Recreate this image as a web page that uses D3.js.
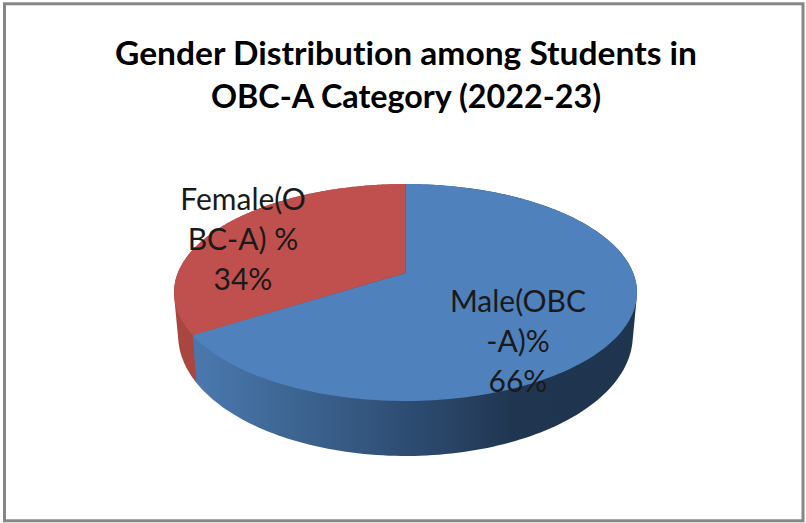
<!DOCTYPE html>
<html><head><meta charset="utf-8">
<script src="https://cdn.jsdelivr.net/npm/d3@7/dist/d3.min.js"></script>
<style>html,body{margin:0;padding:0;background:#fff;overflow:hidden}svg{display:block}text{font-variant-ligatures:none}</style>
</head><body><svg id="c" width="806" height="523"></svg>
<script>
const categories = ["Male(OBC-A)%", "Female(OBC-A) %"];
const values = [66, 34];
const labelLines = [["Male(OBC", "-A)%", "66%"], ["Female(O", "BC-A) %", "34%"]];
const titleLines = ["Gender Distribution among Students in", "OBC-A Category (2022-23)"];
const faceColors = ["#4f81bd", "#c0504d"];

const W = 806, H = 523;
const svg = d3.select("#c");
const defs = svg.append("defs");

svg.append("rect").attr("x", 4.5).attr("y", 3.8).attr("width", W - 7.5).attr("height", H - 6)
  .attr("fill", "#fff").attr("stroke", "#868686").attr("stroke-width", 3);

// Perspective mapping of the unit disc
const cx = 405.5, persp = 0.18, R = 227.7;
const project = (a, top) => {
  const u = Math.sin(a), v = -Math.cos(a), d = 1 - persp * v;
  return top
    ? [cx + R * u / d, (55.8 * v + 273) / d]
    : [cx + 0.982 * R * u / d, (60.1 * v + 313.8) / d];
};

const pie = d3.pie().sort(null).value(d => d);
const arcs = pie(values);
const line = d3.line();

const grad = defs.append("linearGradient").attr("id", "sideBlue")
  .attr("gradientUnits", "userSpaceOnUse").attr("x1", 197).attr("x2", 637).attr("y1", 0).attr("y2", 0);
[[0, "#4a78ae"], [0.22, "#3d6592"], [0.47, "#2e4d74"], [0.72, "#203650"], [1, "#1f344e"]]
  .forEach(s => grad.append("stop").attr("offset", s[0]).attr("stop-color", s[1]));

const sideFill = ["url(#sideBlue)", "#a8463f"];
const samples = a => d3.range(0, 181).map(i => a.startAngle + (a.endAngle - a.startAngle) * i / 180);

// Sides first (red under blue), faces over them
[1, 0].forEach(i => {
  const ang = samples(arcs[i]);
  const hull = d3.polygonHull(ang.map(t => project(t, true)).concat(ang.map(t => project(t, false))));
  svg.append("path").attr("d", line(hull) + "Z").attr("fill", sideFill[i]);
});
arcs.forEach((a, i) => {
  const pts = [[cx, 273]].concat(samples(a).map(t => project(t, true)));
  svg.append("path").attr("d", line(pts) + "Z").attr("fill", faceColors[i]);
});

const titleWidths = [582, 390];
const title = svg.append("g").attr("font-family", "Lato, sans-serif").attr("font-weight", 700)
  .attr("font-size", 33).attr("fill", "#000").attr("text-anchor", "middle");
titleLines.forEach((t, i) => title.append("text").attr("x", 406).attr("y", 64.5 + i * 43)
  .attr("textLength", titleWidths[i]).attr("lengthAdjust", "spacingAndGlyphs").text(t));

const labelPos = [[518, 312], [243, 210]];
const lab = svg.append("g").attr("font-family", "Lato, sans-serif").attr("font-size", 30)
  .attr("fill", "#1a1a1a").attr("text-anchor", "middle");
labelLines.forEach((ls, i) => ls.forEach((t, j) =>
  lab.append("text").attr("x", labelPos[i][0]).attr("y", labelPos[i][1] + j * 40).text(t)));
</script></body></html>
